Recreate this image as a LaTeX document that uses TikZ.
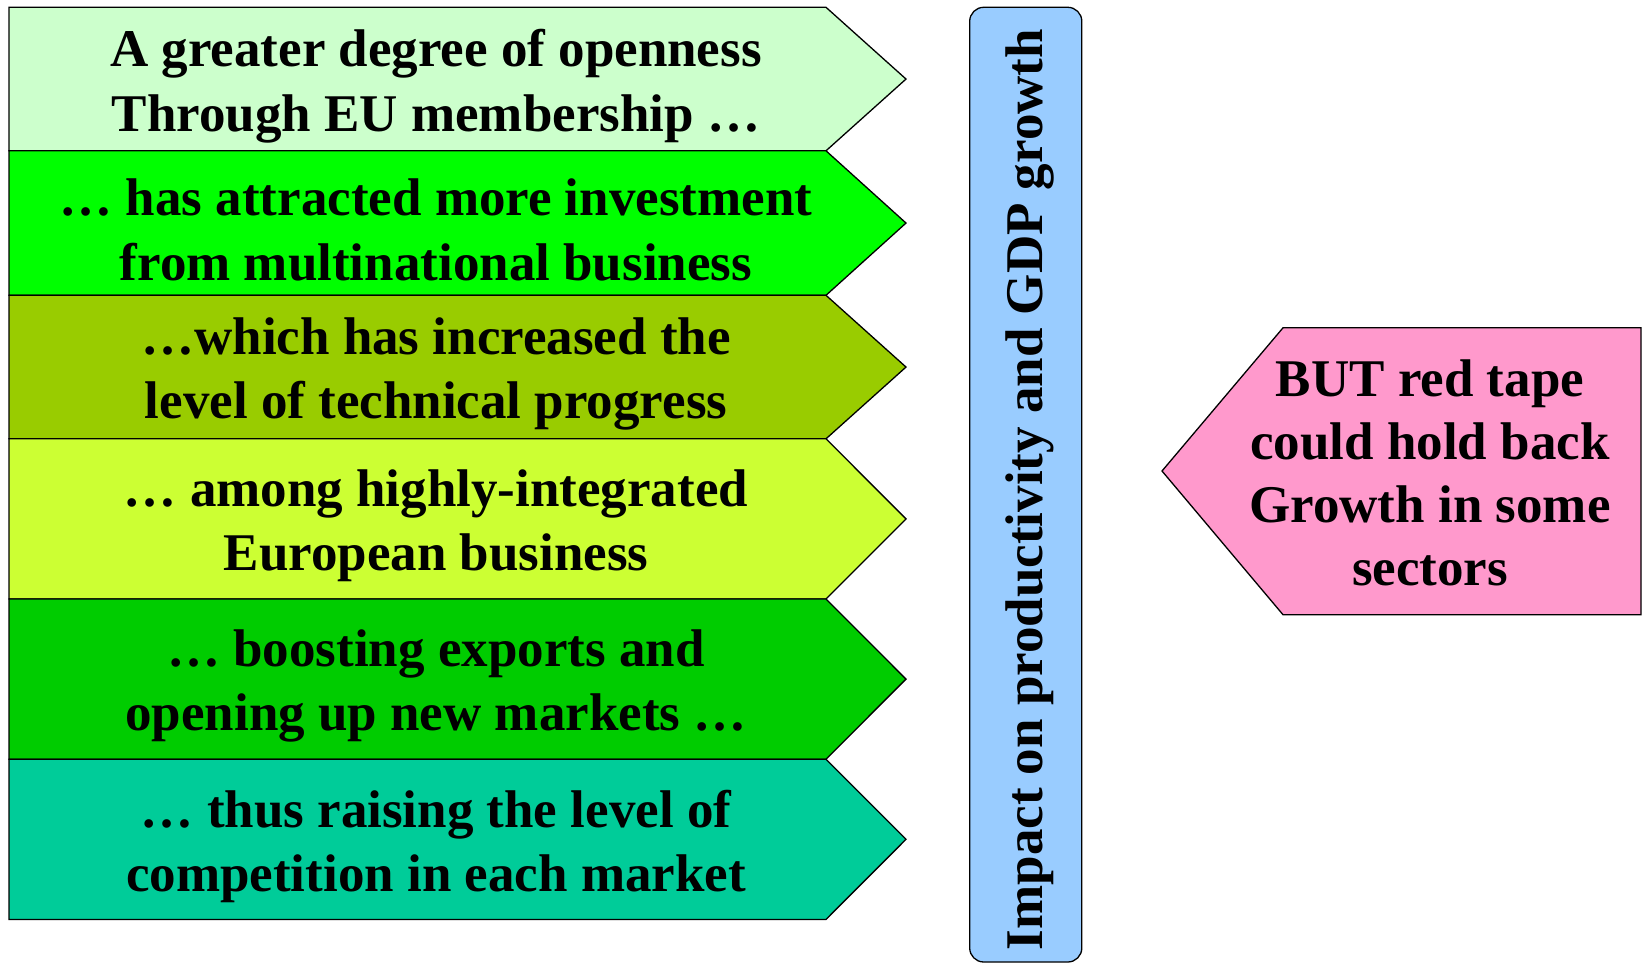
\documentclass[tikz,border=0pt]{standalone}
\usepackage{fontspec}
\setmainfont{Liberation Serif}
\usepackage{tikz}

\definecolor{rowA}{HTML}{CCFFCC}
\definecolor{rowB}{HTML}{00FF00}
\definecolor{rowC}{HTML}{99CC00}
\definecolor{rowD}{HTML}{CCFF33}
\definecolor{rowE}{HTML}{00CC00}
\definecolor{rowF}{HTML}{00CC99}
\definecolor{barblue}{HTML}{99CCFF}
\definecolor{tapepink}{HTML}{FF99CC}

\begin{document}
\begin{tikzpicture}[
				x=1bp, y=-1bp,
				line width=1.3bp,
				R/.style = {draw, line join=miter},% arrow rows and the side arrow
				T/.style = {align=center, inner sep=0pt,
					font=\bfseries\fontsize{53bp}{64.5bp}\selectfont},
				]
				\useasboundingbox (0,0) rectangle (1642,963);
				% stacked rows pointing right
				\foreach \c/\ya/\yb/\t [count=\i] in {
					rowA/7.3/150.8/{A greater degree of openness\\Through EU membership …},
					rowB/150.8/295.3/{… has attracted more investment\\from multinational business},
					rowC/295.3/438.8/{…which has increased the\\level of technical progress},
					rowD/438.8/599.0/{… among highly-integrated\\European business},
					rowE/599.0/759.2/{… boosting exports and\\opening up new markets …},
					rowF/759.2/919.4/{… thus raising the level of\\competition in each market}}
				{
				\filldraw[R, fill=\c] (9,\ya) -- (826,\ya) -- (906,{(\ya+\yb)/2})
					-- (826,\yb) -- (9,\yb) -- cycle;
				\node[T] (row\i) at (436,{(\ya+\yb)/2+7}) {\t};
				}
				% vertical bar
				\filldraw[R, fill=barblue, rounded corners=14bp] (969.7,7.3) rectangle (1081.8,962);
				\node[T, rotate=90] (impact) at (1029.5,489.6) {Impact on productivity and GDP growth};
				% side arrow pointing left
				\filldraw[R, fill=tapepink] (1162,471) -- (1283,327.8) -- (1641,327.8)
					-- (1641,614.7) -- (1283,614.7) -- cycle;
				\node[T, font=\bfseries\fontsize{53bp}{63bp}\selectfont] (tape) at (1430,473) {BUT red tape\\could hold back\\ Growth in some\\sectors};
			\end{tikzpicture}
\end{document}
